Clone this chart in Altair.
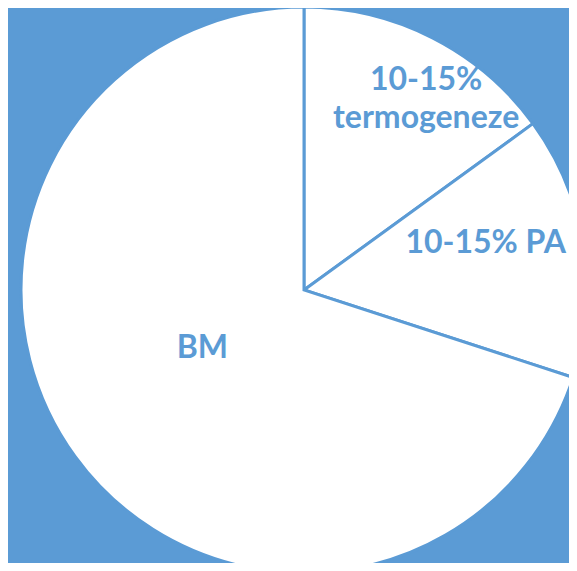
import altair as alt
import pandas as pd

categories = ["10-15%\ntermogeneze", "10-15% PA", "BM"]
values = [15, 15, 70]
order = [0, 1, 2]

df = pd.DataFrame({"cat": categories, "val": values, "ord": order})

BLUE = "#5B9BD5"
CX, CY, R = 296, 282, 283

base = alt.Chart(df).encode(
    theta=alt.Theta("val:Q", stack=True),
    order=alt.Order("ord:Q"),
)

pie = base.mark_arc(
    radius=R, fill="white", stroke=BLUE, strokeWidth=3, strokeJoin="miter"
).encode(x=alt.value(CX), y=alt.value(CY))

def label(cat, radius, dx, dy):
    return alt.Chart(df).transform_window(
        cum="sum(val)", sort=[alt.SortField("ord")]
    ).transform_calculate(
        mid="(datum.cum - datum.val/2) / 100 * 2 * PI"
    ).transform_filter(alt.datum.cat == cat).mark_text(
        font="Lato", fontWeight="bold", fontSize=32, color=BLUE,
        lineBreak="\n", lineHeight=38, align="center", baseline="middle",
        radius=radius, dx=dx, dy=dy,
    ).encode(
        x=alt.value(CX), y=alt.value(CY),
        theta=alt.Theta("mid:Q", scale=None),
        text="cat:N",
    )

chart = alt.layer(
    pie,
    label(categories[0], 225, 20, -10),
    label(categories[1], 184, 0, -18),
    label(categories[2], 117, -7, -11),
).properties(
    width=561, height=555, background=BLUE, padding=0,
    autosize=alt.AutoSizeParams(type="none"),
).configure_view(stroke=None)

chart.save("out.html", embed_options={"renderer": "svg", "actions": False})
